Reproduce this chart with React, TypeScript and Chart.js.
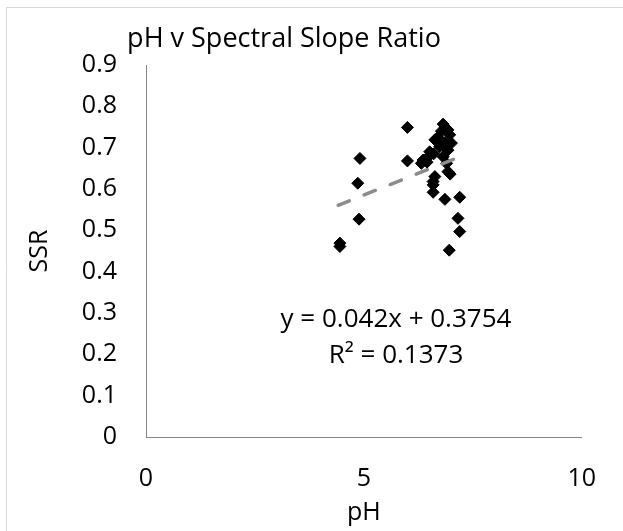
import React, { useEffect, useRef } from "react";
import { Chart, registerables } from "chart.js";

Chart.register(...registerables);

const chartTitle = "pH v Spectral Slope Ratio";
const xAxisTitle = "pH";
const yAxisTitle = "SSR";
const equationLines = ["y = 0.042x + 0.3754", "R² = 0.1373"];

const phValues = [
  4.45, 4.45, 4.89, 4.86, 4.91, 6.0, 6.0,
  6.82, 6.86, 6.93, 6.78, 6.97, 6.7, 6.63, 7.01, 6.86, 6.74, 6.93, 6.51, 6.6,
  6.48, 6.82, 6.36, 6.32, 6.45, 6.9, 6.93, 6.98, 6.63, 6.59, 6.59, 6.59,
  6.86, 7.2, 7.16, 7.2, 6.96,
];
const ssrValues = [
  0.469, 0.461, 0.527, 0.614, 0.674, 0.749, 0.668,
  0.757, 0.75, 0.743, 0.74, 0.731, 0.725, 0.719, 0.711, 0.712, 0.702, 0.694, 0.69, 0.685,
  0.678, 0.678, 0.67, 0.662, 0.665, 0.662, 0.642, 0.636, 0.63, 0.618, 0.61, 0.592,
  0.575, 0.58, 0.529, 0.497, 0.452,
];

const trendSlope = 0.042;
const trendIntercept = 0.3754;
const trendRange = [4.41, 7.21];

const xTickValues = [0, 5, 10];
const yTickValues = [0, 0.1, 0.2, 0.3, 0.4, 0.5, 0.6, 0.7, 0.8, 0.9];

const FONT = "'Open Sans', 'DejaVu Sans', sans-serif";

export default function App() {
  const canvasRef = useRef<HTMLCanvasElement | null>(null);

  useEffect(() => {
    const canvas = canvasRef.current;
    if (!canvas) return;

    const points = phValues.map((x, i) => ({ x, y: ssrValues[i] }));
    const trend = trendRange.map((x) => ({ x, y: trendSlope * x + trendIntercept }));

    const decorations = {
      id: "decorations",
      beforeDraw(chart: any) {
        const ctx = chart.ctx;
        ctx.save();
        ctx.fillStyle = "#ffffff";
        ctx.fillRect(0, 0, chart.width, chart.height);
        ctx.strokeStyle = "#d9d9d9";
        ctx.lineWidth = 1;
        ctx.beginPath();
        ctx.moveTo(6.5, chart.height);
        ctx.lineTo(6.5, 7.5);
        ctx.lineTo(chart.width, 7.5);
        ctx.stroke();
        ctx.restore();
      },
      afterDraw(chart: any) {
        const ctx = chart.ctx;
        ctx.save();
        ctx.fillStyle = "#000000";
        ctx.textAlign = "center";
        ctx.textBaseline = "alphabetic";
        ctx.font = `27px ${FONT}`;
        ctx.fillText(chartTitle, 284, 47);
        ctx.font = `26px ${FONT}`;
        ctx.fillText(equationLines[0], 396, 327);
        ctx.fillText(equationLines[1], 396, 363);
        ctx.restore();
      },
    };

    const chart = new Chart(canvas, {
      type: "scatter",
      data: {
        datasets: [
          {
            type: "line",
            label: "Trend",
            data: trend,
            borderColor: "#8c8c8c",
            borderWidth: 3.5,
            borderDash: [12, 16],
            borderCapStyle: "round",
            pointRadius: 0,
            fill: false,
          } as any,
          {
            label: "SSR",
            data: points,
            pointStyle: "rectRot",
            pointRadius: 6,
            backgroundColor: "#000000",
            borderColor: "#000000",
            borderWidth: 1,
          },
        ],
      },
      plugins: [decorations],
      options: {
        animation: false,
        responsive: false,
        maintainAspectRatio: false,
        events: [],
        layout: { padding: { left: 0, top: 65, right: 41, bottom: 0 } },
        plugins: {
          legend: { display: false },
          title: { display: false },
          tooltip: { enabled: false },
        },
        scales: {
          x: {
            type: "linear",
            min: 0,
            max: 10,
            afterBuildTicks: (scale: any) => {
              scale.ticks = xTickValues.map((v) => ({ value: v }));
            },
            afterFit: (scale: any) => {
              scale.height = 94;
            },
            grid: { display: false, drawTicks: false },
            border: { display: true, color: "#868686", width: 1 },
            ticks: {
              padding: 27,
              color: "#000000",
              font: { family: FONT, size: 25 },
              maxRotation: 0,
              callback: (v: any) => String(v),
            },
            title: {
              display: true,
              text: xAxisTitle,
              color: "#000000",
              font: { family: FONT, size: 25 },
              padding: { top: 0, bottom: 3 },
            },
          },
          y: {
            type: "linear",
            min: 0,
            max: 0.9,
            afterBuildTicks: (scale: any) => {
              scale.ticks = yTickValues.map((v) => ({ value: v }));
            },
            afterFit: (scale: any) => {
              scale.width = 146;
            },
            grid: { display: false, drawTicks: false },
            border: { display: true, color: "#868686", width: 1 },
            ticks: {
              padding: 29,
              color: "#000000",
              font: { family: FONT, size: 25 },
              callback: (v: any) => String(Number(Number(v).toFixed(1))),
            },
            title: {
              display: true,
              text: yAxisTitle,
              color: "#000000",
              font: { family: FONT, size: 25 },
              padding: { top: 25, bottom: 0 },
            },
          },
        },
      },
    });

    return () => chart.destroy();
  }, []);

  return (
    <div style={{ position: "absolute", left: 0, top: 0, width: 623, height: 531, background: "#fff" }}>
      <canvas ref={canvasRef} width={623} height={531} style={{ display: "block", width: 623, height: 531 }} />
    </div>
  );
}
